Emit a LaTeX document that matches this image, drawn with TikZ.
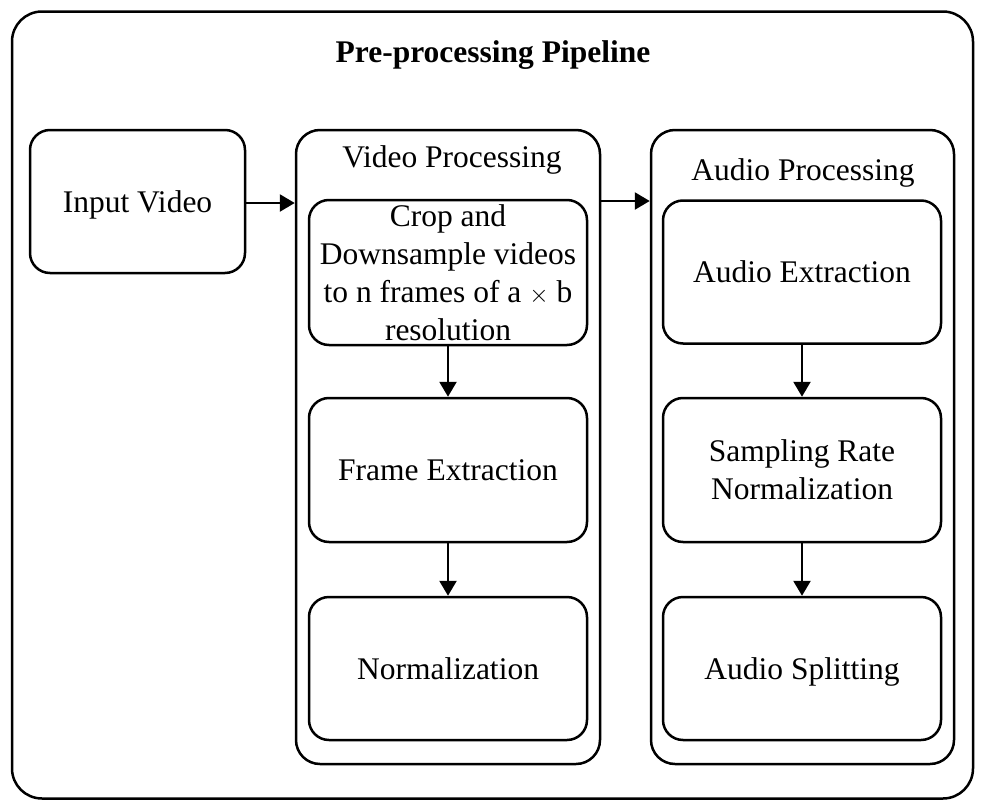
\documentclass[tikz,border=0pt]{standalone}
\usepackage{fontspec}
\setmainfont{Liberation Serif}
\usetikzlibrary{arrows.meta}
\begin{document}
\begin{tikzpicture}[x=1pt,y=-1pt,
  every node/.style={font=\fontsize{31.5}{38}\selectfont, align=center, inner sep=0pt},
  rbox/.style={draw, line width=2.5pt, rounded corners=20pt, rectangle},
  lower/.style={text height=28pt, text depth=7pt},
  cont/.style={draw, line width=2.5pt, rounded corners=24pt, rectangle},
  flow/.style={line width=2.5pt, -{Triangle[length=15pt,width=17pt]}}]
\useasboundingbox (0,0) rectangle (986,811);
\node[draw, line width=2.5pt, rounded corners=30pt, minimum width=961pt, minimum height=787pt] (outer) at (492.5,405) {};
\node[font=\fontsize{31.5}{38}\selectfont\bfseries] (title) at (493,55) {Pre-processing Pipeline};

\node[rbox, lower, minimum width=215pt, minimum height=143pt] (iv) at (137.5,201.5) {Input Video};

\node[cont, minimum width=304pt, minimum height=634pt] (vp) at (448,447) {};
\node (vpl) at (452,160) {Video Processing};
\node[rbox, minimum width=278pt, minimum height=145pt] (crop) at (448,272.5) {Crop and\\Downsample videos\\to n frames of a $\times$ b\\resolution};
\node[rbox, minimum width=278pt, minimum height=144pt] (frame) at (448,470) {Frame Extraction};
\node[rbox, minimum width=278pt, minimum height=143pt] (norm) at (448,668.5) {Normalization};

\node[cont, minimum width=303pt, minimum height=634pt] (ap) at (802.5,447) {};
\node (apl) at (803,173) {Audio Processing};
\node[rbox, minimum width=278pt, minimum height=143pt] (ae) at (802,272) {Audio Extraction};
\node[rbox, minimum width=278pt, minimum height=144pt] (sr) at (802,470) {Sampling Rate\\Normalization};
\node[rbox, lower, minimum width=278pt, minimum height=143pt] (as) at (802,668.5) {Audio Splitting};

\coordinate (vy) at (0,203);
\coordinate (ay) at (0,201);
\draw[flow] (iv.east |- vy) -- (vp.west |- vy);
\draw[flow] (vp.east |- ay) -- (ap.west |- ay);
\draw[flow] (crop.south) -- (frame.north);
\draw[flow] (frame.south) -- (norm.north);
\draw[flow] (ae.south) -- (sr.north);
\draw[flow] (sr.south) -- (as.north);
\end{tikzpicture}
\end{document}
